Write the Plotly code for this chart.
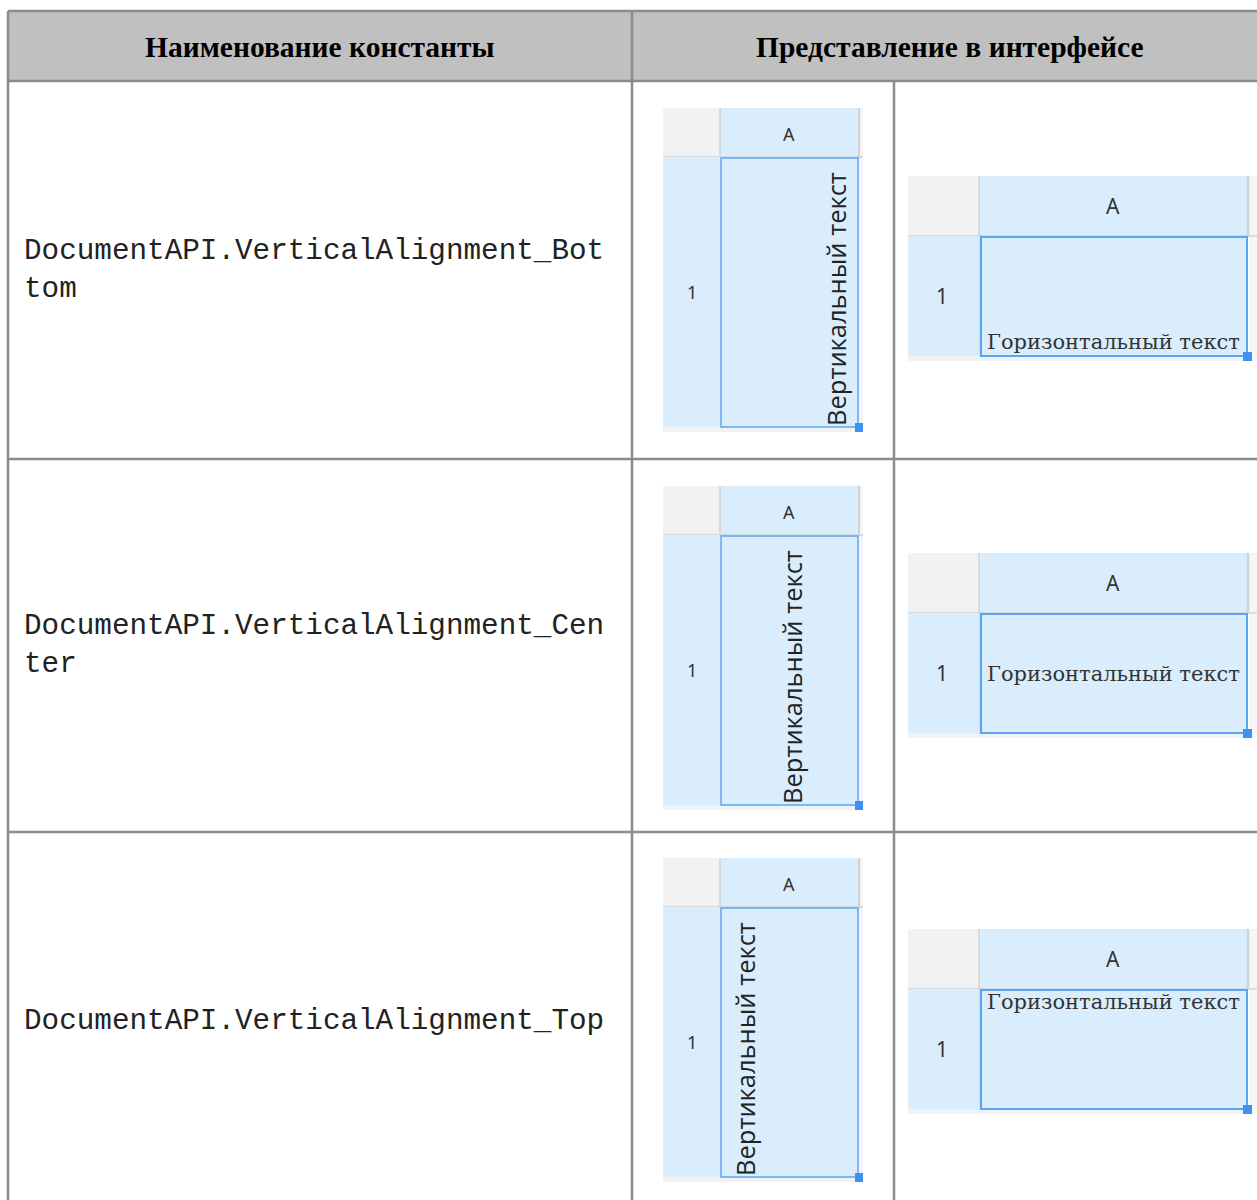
import plotly.graph_objects as go

# ---- content (data) ----
header_labels = ["Наименование константы", "Представление в интерфейсе"]
constant_names = [
    "DocumentAPI.VerticalAlignment_Bot<br>tom",
    "DocumentAPI.VerticalAlignment_Cen<br>ter",
    "DocumentAPI.VerticalAlignment_Top",
]
alignments = ["bottom", "center", "top"]
vertical_sample = "Вертикальный текст"
horizontal_sample = "Горизонтальный текст"
column_label = "A"
row_label = "1"

# ---- layout geometry (page pixel coordinates) ----
PAGE_W, PAGE_H = 1257, 1200
TABLE_L, TABLE_R = 8, 1267
COL_SPLIT, SUB_SPLIT = 632, 894
ROW_EDGES = [11, 81, 459, 832, 1210]
VERT_Y0 = [108, 486, 858]
HORZ_Y0 = [176, 553, 929]

GRID = "#8c8c8c"
HEAD_FILL = "#c0c0c0"
CORNER = "#f2f2f2"
LIGHT = "#d9edfc"
SEP = "#d2d2d2"
SEL = "#59a5f5"
HANDLE = "#3f90f0"

shapes, annos = [], []

def rect(x0, y0, x1, y1, fill=None, line=None, lw=0, layer="above"):
    shapes.append(dict(type="rect", xref="x", yref="y", x0=x0, y0=y0, x1=x1, y1=y1,
                       fillcolor=fill or "rgba(0,0,0,0)",
                       line=dict(color=line or "rgba(0,0,0,0)", width=lw), layer=layer))

def seg(x0, y0, x1, y1, color, w):
    shapes.append(dict(type="line", xref="x", yref="y", x0=x0, y0=y0, x1=x1, y1=y1,
                       line=dict(color=color, width=w), layer="above"))

def text(x, y, s, size, family, color="#000", xa="center", ya="middle", angle=0, bold=False, align="center"):
    annos.append(dict(x=x, y=y, xref="x", yref="y", text=s, showarrow=False,
                      xanchor=xa, yanchor=ya, textangle=angle, align=align,
                      font=dict(size=size, family=family, color=color,
                                weight="bold" if bold else "normal")))

# header band
rect(TABLE_L, ROW_EDGES[0], TABLE_R, ROW_EDGES[1], fill=HEAD_FILL, layer="below")

VFONT = "Open Sans"
VSIZE = 25.5

# spreadsheet: vertical text
def vert_sheet(y0, align):
    x0, xc, xa1, xr = 663, 720, 858, 863
    hh, rh = 49, 270
    rect(x0, y0, xc, y0 + hh, fill=CORNER)
    rect(xc, y0, xa1, y0 + hh, fill=LIGHT)
    rect(xa1, y0, xr, y0 + hh + rh + 5, fill="#f4f4f4")
    seg(xa1 + 1, y0, xa1 + 1, y0 + hh, SEP, 2)
    seg(xc, y0, xc, y0 + hh, SEP, 1.5)
    seg(x0, y0 + hh, xr, y0 + hh, SEP, 1.5)
    rect(x0, y0 + hh, xc, y0 + hh + rh, fill=LIGHT)
    rect(x0, y0 + hh + rh, xr, y0 + hh + rh + 5, fill="#f2f2f2")
    rect(xc + 1, y0 + hh + 1, xa1, y0 + hh + rh, fill=LIGHT, line=SEL, lw=1.5)
    rect(xa1 - 3, y0 + hh + rh - 4, xa1 + 5, y0 + hh + rh + 5, fill=HANDLE)
    text((xc + xa1) / 2, y0 + hh / 2 + 1, column_label, 18, "Noto Sans", "#333")
    text((x0 + xc) / 2, y0 + hh + rh / 2, row_label, 18, "Noto Sans", "#333")
    yb = y0 + hh + rh + 1
    if align == "bottom":
        text(xa1 - 3, yb, vertical_sample, VSIZE, VFONT, "#222", xa="right", ya="bottom", angle=-90)
    elif align == "center":
        text((xc + xa1) / 2 + 3, yb, vertical_sample, VSIZE, VFONT, "#222", xa="center", ya="bottom", angle=-90)
    else:
        text(xc + 6, yb, vertical_sample, VSIZE, VFONT, "#222", xa="left", ya="bottom", angle=-90)

# spreadsheet: horizontal text
def horz_sheet(y0, align):
    x0, xc, xa1, xr = 908, 979, 1247, 1257
    hh, rh = 60, 120
    rect(x0, y0, xc, y0 + hh, fill=CORNER)
    rect(xc, y0, xr, y0 + hh, fill=LIGHT)
    rect(xa1 + 2, y0, xr, y0 + hh + rh + 5, fill="#f6f6f6")
    seg(xa1 + 1, y0, xa1 + 1, y0 + hh, SEP, 2.5)
    seg(xc, y0, xc, y0 + hh + rh + 5, SEP, 1.5)
    seg(x0, y0 + hh, xr, y0 + hh, SEP, 1.5)
    rect(x0, y0 + hh, xc, y0 + hh + rh, fill=LIGHT)
    rect(x0, y0 + hh + rh, xa1, y0 + hh + rh + 5, fill="#f2f2f2")
    rect(xc + 2, y0 + hh + 1, xa1, y0 + hh + rh, fill=LIGHT, line=SEL, lw=2)
    rect(xa1 - 4, y0 + hh + rh - 4, xa1 + 5, y0 + hh + rh + 5, fill=HANDLE)
    text((xc + xa1) / 2, y0 + hh / 2, column_label, 21, "Noto Sans", "#333")
    text((x0 + xc) / 2 - 2, y0 + hh + rh / 2, row_label, 21, "Noto Sans", "#333")
    fam = "DejaVu Serif"
    if align == "bottom":
        text(xc + 6, y0 + hh + rh, horizontal_sample, 21, fam, "#333", xa="left", ya="bottom")
    elif align == "center":
        text(xc + 6, y0 + hh + rh / 2 + 1, horizontal_sample, 21, fam, "#333", xa="left", ya="middle")
    else:
        text(xc + 6, y0 + hh - 1, horizontal_sample, 21, fam, "#333", xa="left", ya="top")

for i, al in enumerate(alignments):
    vert_sheet(VERT_Y0[i], al)
    horz_sheet(HORZ_Y0[i], al)

# table grid lines
for y in ROW_EDGES[:-1]:
    seg(TABLE_L, y, TABLE_R, y, GRID, 2.5)
seg(TABLE_L, ROW_EDGES[0], TABLE_L, ROW_EDGES[-1], GRID, 2.5)
seg(COL_SPLIT, ROW_EDGES[0], COL_SPLIT, ROW_EDGES[-1], GRID, 2.5)
seg(SUB_SPLIT, ROW_EDGES[1], SUB_SPLIT, ROW_EDGES[-1], GRID, 2.5)

# header texts
text((TABLE_L + COL_SPLIT) / 2, (ROW_EDGES[0] + ROW_EDGES[1]) / 2 + 1, header_labels[0], 29.5,
     "Liberation Serif", bold=True)
text((COL_SPLIT + TABLE_R) / 2, (ROW_EDGES[0] + ROW_EDGES[1]) / 2 + 1, header_labels[1], 29.5,
     "Liberation Serif", bold=True)

# constant names
for i, name in enumerate(constant_names):
    yc = (ROW_EDGES[i + 1] + ROW_EDGES[i + 2]) / 2
    text(22, yc, name, 29.3, "Liberation Mono", "#222", xa="left", ya="middle", align="left")

fig = go.Figure()
fig.add_trace(go.Scatter(x=[0, PAGE_W], y=[0, PAGE_H], mode="markers",
                         marker=dict(opacity=0), hoverinfo="skip", showlegend=False))
fig.update_layout(
    width=PAGE_W, height=PAGE_H, margin=dict(l=0, r=0, t=0, b=0),
    paper_bgcolor="white", plot_bgcolor="white",
    xaxis=dict(range=[0, PAGE_W], visible=False, fixedrange=True),
    yaxis=dict(range=[PAGE_H, 0], visible=False, fixedrange=True),
    shapes=shapes, annotations=annos, showlegend=False,
)
fig.write_html(
    "out.html",
    config={"displayModeBar": False},
    post_script="document.body.style.margin='0';document.body.style.overflow='hidden';",
)
